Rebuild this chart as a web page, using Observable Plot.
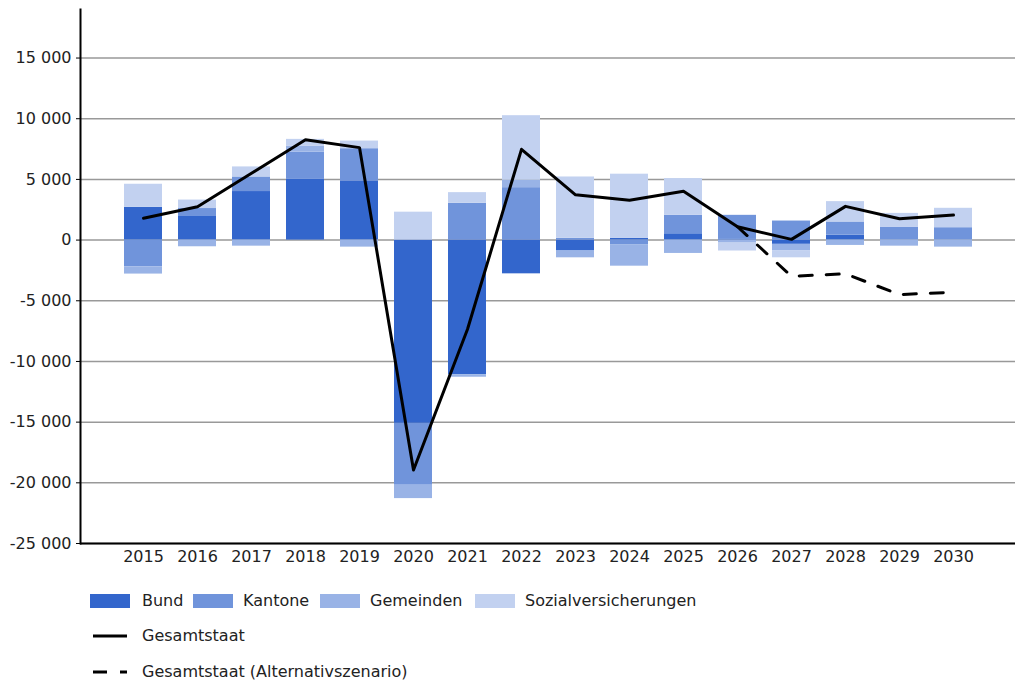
<!DOCTYPE html>
<html>
<head>
<meta charset="utf-8">
<script src="https://cdn.jsdelivr.net/npm/d3@7"></script>
<script src="https://cdn.jsdelivr.net/npm/@observablehq/plot@0.6"></script>
<style>
  body { margin: 0; background: #fff; font-family: "DejaVu Sans", sans-serif; }
  #wrap { position: relative; width: 1024px; height: 698px; }
  .lg { position: absolute; font-size: 16px; color: #222; line-height: 16px; }
  .sw { position: absolute; width: 40px; height: 14px; }
</style>
</head>
<body>
<div id="wrap">
  <div id="chart"></div>
  <div id="legend"></div>
</div>
<script>
const years = ["2015","2016","2017","2018","2019","2020","2021","2022","2023","2024","2025","2026","2027","2028","2029","2030"];
const categories = ["Bund", "Kantone", "Gemeinden", "Sozialversicherungen"];
const colors = ["#3366cc", "#7094db", "#99b3e6", "#c2d1f0"];
const bund      = [2700, 2000, 4000, 5000, 4880, -15100, -11100, -2780, -900, 150, 520, 100, -350, 410, 0, 0];
const kantone   = [-2200, 600, 1200, 2250, 2650, -5100, 3030, 4320, 150, -410, 1520, 1940, 1570, 1080, 1070, 1020];
const gemeinden = [-600, -550, -500, 500, -580, -1100, -200, 610, -560, -1740, -1100, -250, -550, -440, -500, -580];
const sozial    = [1900, 700, 830, 550, 630, 2300, 880, 5320, 5050, 5280, 3030, -650, -560, 1680, 1130, 1600];
const gesamt    = [1800, 2750, 5500, 8270, 7620, -18950, -7350, 7480, 3730, 3280, 4020, 1100, 60, 2780, 1760, 2060];
const altYears  = ["2026","2027","2028","2029","2030"];
const alternativ = [1100, -2980, -2780, -4490, -4300];
const yTicks = [-25000, -20000, -15000, -10000, -5000, 0, 5000, 10000, 15000];

const series = [bund, kantone, gemeinden, sozial];
const bars = [];
years.forEach((yr, i) => {
  categories.forEach((c, k) => bars.push({year: yr, cat: c, value: series[k][i]}));
});
const lineData = years.map((yr, i) => ({year: yr, value: gesamt[i]}));
const altData = altYears.map((yr, i) => ({year: yr, value: alternativ[i]}));

const fmt = d3.formatLocale({decimal: ",", thousands: " ", grouping: [3], minus: "-"}).format(",");

const chart = Plot.plot({
  width: 1024,
  height: 580,
  marginLeft: 80,
  marginRight: 9,
  marginTop: 9,
  marginBottom: 37,
  style: {fontFamily: "DejaVu Sans, sans-serif", fontSize: "16px", color: "#222", background: "white"},
  x: {type: "band", domain: years, paddingInner: 0.3, paddingOuter: 0.8, label: null},
  y: {domain: [-25000, 19000], label: null},
  color: {domain: categories, range: colors},
  marks: [
    Plot.gridY(yTicks, {stroke: "#999", strokeOpacity: 1, strokeWidth: 1.5}),
    Plot.barY(bars, {x: "year", y: "value", fill: "cat", inset: 0}),
    Plot.line(lineData, {x: "year", y: "value", stroke: "black", strokeWidth: 3}),
    Plot.line(altData, {x: "year", y: "value", stroke: "black", strokeWidth: 3, strokeDasharray: "13,14"}),
    Plot.ruleY([-25000], {stroke: "black", strokeWidth: 2}),
    Plot.frame({anchor: "left", stroke: "black", strokeWidth: 2}),
    Plot.axisY(yTicks, {tickFormat: fmt, tickSize: 4, tickPadding: 5, fontSize: 16, label: null, stroke: "black"}),
    Plot.axisX({tickSize: 0, tickPadding: 7, fontSize: 16, label: null})
  ]
});
document.getElementById("chart").appendChild(chart);

// Legend
const legend = document.getElementById("legend");
const swX = [90, 193, 320, 475];
const txX = [142, 243, 370, 525];
categories.forEach((c, k) => {
  const sw = document.createElement("div");
  sw.className = "sw";
  sw.style.left = swX[k] + "px";
  sw.style.top = "594px";
  sw.style.background = colors[k];
  legend.appendChild(sw);
  const t = document.createElement("div");
  t.className = "lg";
  t.style.left = txX[k] + "px";
  t.style.top = "593px";
  t.textContent = c;
  legend.appendChild(t);
});
const lineItems = [
  {label: "Gesamtstaat", dash: null, y: 636},
  {label: "Gesamtstaat (Alternativszenario)", dash: "14,13", y: 672}
];
lineItems.forEach(it => {
  const svg = d3.create("svg").attr("width", 40).attr("height", 10)
    .style("position", "absolute").style("left", "92px").style("top", (it.y - 5) + "px");
  const l = svg.append("line").attr("x1", 1).attr("x2", 35).attr("y1", 5).attr("y2", 5)
    .attr("stroke", "black").attr("stroke-width", 3);
  if (it.dash) l.attr("stroke-dasharray", it.dash);
  legend.appendChild(svg.node());
  const t = document.createElement("div");
  t.className = "lg";
  t.style.left = "142px";
  t.style.top = (it.y - 8) + "px";
  t.textContent = it.label;
  legend.appendChild(t);
});
</script>
</body>
</html>
